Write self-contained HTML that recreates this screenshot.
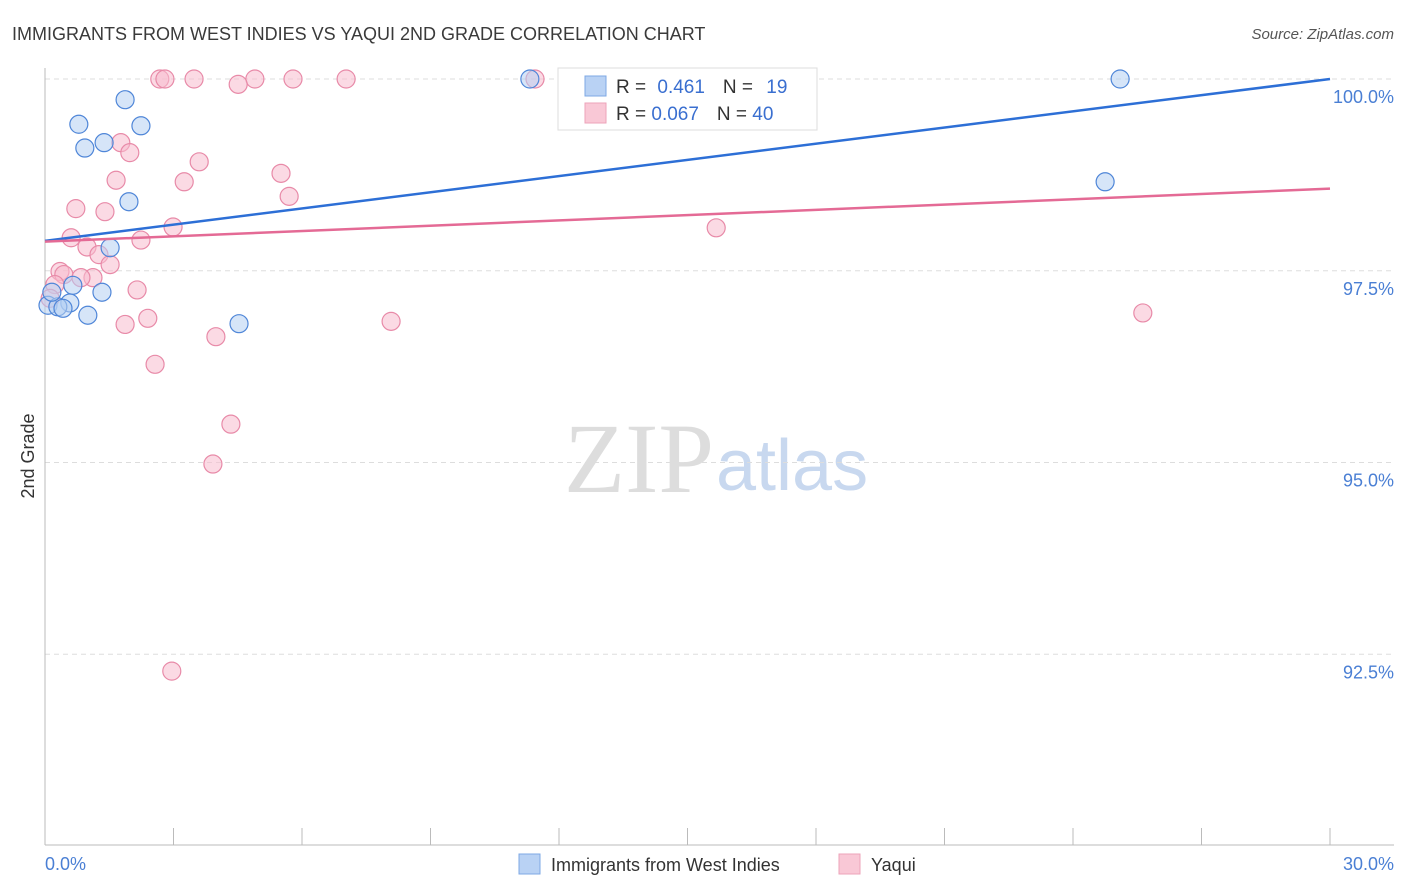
<!DOCTYPE html>
<html><head><meta charset="utf-8"><style>
body{margin:0;background:#fff;font-family:"Liberation Sans",sans-serif;}
svg{display:block}
</style></head><body>
<svg id="chart" width="1406" height="892">
<text x="12" y="40" font-size="18" fill="#3a3a3a">IMMIGRANTS FROM WEST INDIES VS YAQUI 2ND GRADE CORRELATION CHART</text>
<text x="1394" y="39" font-size="15" fill="#555" font-style="italic" text-anchor="end">Source: ZipAtlas.com</text>
<text x="714" y="492" font-size="100" fill="#ddd" text-anchor="end" font-family="Liberation Serif, serif">ZIP</text>
<text x="716" y="490" font-size="72" fill="#c8d8ef">atlas</text>
<g id="grid"></g>
<g id="axes"></g>
<g id="marks"></g>
<text transform="translate(34,456) rotate(-90)" font-size="18" fill="#333" text-anchor="middle">2nd Grade</text>
<text x="45" y="870" font-size="18" fill="#4a7fd4">0.0%</text>
<text x="1394" y="870" font-size="18" fill="#4a7fd4" text-anchor="end">30.0%</text>
<g>
<rect x="558" y="68" width="259" height="62" fill="#fff" stroke="#ddd"/>
<rect x="585" y="76" width="21" height="20" fill="#b9d2f4" stroke="#7ea8e4"/>
<rect x="585" y="103" width="21" height="20" fill="#f9c8d6" stroke="#eda3ba"/>
<text x="616" y="93" font-size="19" fill="#333">R = <tspan fill="#3a6fd0" dx="6">0.461</tspan><tspan dx="18" fill="#333">N = </tspan><tspan dx="8" fill="#3a6fd0">19</tspan></text>
<text x="616" y="120" font-size="19" fill="#333">R = <tspan fill="#3a6fd0">0.067</tspan><tspan dx="18" fill="#333">N = </tspan><tspan fill="#3a6fd0">40</tspan></text>
</g>
<g>
<rect x="519" y="854" width="21" height="20" fill="#b9d2f4" stroke="#7ea8e4"/>
<text x="551" y="871" font-size="18" fill="#333">Immigrants from West Indies</text>
<rect x="839" y="854" width="21" height="20" fill="#f9c8d6" stroke="#eda3ba"/>
<text x="871" y="871" font-size="18" fill="#333">Yaqui</text>
</g>
</svg>
<script>
const yTicks=[100,97.5,95,92.5];
const yTickLabels=["100.0%","97.5%","95.0%","92.5%"];
const xTicks=[0,3,6,9,12,15,18,21,24,27,30];
const blueX=[1.87,0.79,2.24,0.93,1.38,1.96,1.52,0.65,1.33,0.58,0.07,0.30,0.42,1.00,4.53,11.32,25.10,24.75,0.16];
const blueY=[99.73,99.41,99.39,99.10,99.17,98.40,97.80,97.31,97.22,97.08,97.05,97.03,97.01,96.92,96.81,100,100,98.66,97.22];
const pinkX=[2.68,2.80,3.48,4.90,5.79,7.03,11.44,4.51,1.77,1.98,3.60,5.51,1.66,3.25,5.70,0.72,1.40,2.99,15.67,0.61,2.24,0.98,1.26,1.52,0.35,0.44,1.12,0.84,0.23,2.15,0.12,2.40,1.87,8.08,25.63,3.99,2.57,4.34,3.92,2.96];
const pinkY=[100,100,100,100,100,100,100,99.93,99.17,99.04,98.92,98.77,98.68,98.66,98.47,98.31,98.27,98.07,98.06,97.93,97.90,97.81,97.71,97.58,97.49,97.45,97.41,97.41,97.32,97.25,97.14,96.88,96.80,96.84,96.95,96.64,96.28,95.50,94.98,92.28];
const blueTrend=[97.89,100];
const pinkTrend=[97.88,98.57];
const trendX=[0,30];
const NS="http://www.w3.org/2000/svg";
const xs=v=>45+v*1285/30;
const ys=v=>79+(100-v)*76.7;
function mk(parent,tag,attrs){const e=document.createElementNS(NS,tag);for(const k in attrs)e.setAttribute(k,attrs[k]);document.getElementById(parent).appendChild(e);return e;}
yTicks.forEach((t,i)=>{
  const l=mk('grid','line',{x1:45,x2:1394,y1:ys(t),y2:ys(t),stroke:'#ddd','stroke-dasharray':'5,4'});
  
  
  const tx=mk('grid','text',{x:1394,y:ys(t)+24,'font-size':18,fill:'#4a7fd4','text-anchor':'end'});
  tx.textContent=yTickLabels[i];
  
  
});
const ax=mk('axes','line',{x1:45,x2:1394,y1:845,y2:845,stroke:'#bbb'});


const ay=mk('axes','line',{x1:45,x2:45,y1:68,y2:845,stroke:'#bbb'});


xTicks.forEach(t=>{
  const l=mk('axes','line',{x1:xs(t),x2:xs(t),y1:828,y2:845,stroke:'#bbb'});
  
  
});
function pts(X,Y,fill,stroke,name){
  X.forEach((x,i)=>{
    const c=mk('marks','circle',{cx:xs(x),cy:ys(Y[i]),r:9,fill:fill,'fill-opacity':0.55,stroke:stroke,'stroke-width':1.2});
    
    
  });
}
pts(pinkX,pinkY,'#f7bccd','#e88aa8','yaqui-point');
pts(blueX,blueY,'#b4cff2','#4f86d8','west-indies-point');
const bl=mk('marks','line',{x1:xs(trendX[0]),x2:xs(trendX[1]),y1:ys(blueTrend[0]),y2:ys(blueTrend[1]),stroke:'#2d6fd6','stroke-width':2.5});


const pl=mk('marks','line',{x1:xs(trendX[0]),x2:xs(trendX[1]),y1:ys(pinkTrend[0]),y2:ys(pinkTrend[1]),stroke:'#e46a95','stroke-width':2.5});


</script>
</body></html>
